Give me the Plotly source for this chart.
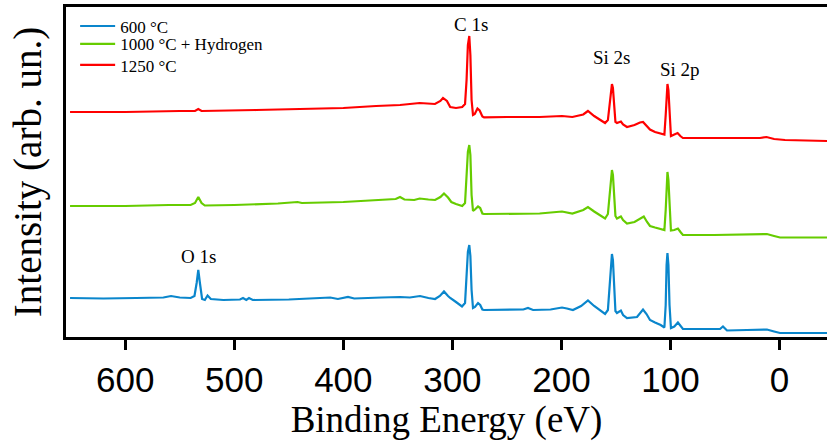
import plotly.graph_objects as go

# XPS survey spectra, stacked with vertical offsets (arbitrary units)
energy_1250 = [650.6, 600.0, 550.0, 536.0, 533.0, 530.0, 480.0, 430.0, 400.0, 370.0,
               348.0, 330.0, 316.0, 311.0, 308.6, 305.0, 302.0, 296.7, 291.0, 288.4,
               287.0, 285.8, 284.5, 283.5, 282.4, 281.1, 279.5, 277.0, 275.0, 272.5,
               271.0, 250.0, 220.0, 199.5, 190.0, 180.0, 175.7, 170.0, 164.7, 160.0,
               157.4, 155.5, 154.4, 153.7, 152.8, 151.8, 150.5, 149.1, 145.5, 143.5,
               139.9, 133.0, 128.0, 125.2, 122.0, 118.8, 114.2, 109.0, 105.6, 104.4,
               103.6, 102.8, 101.9, 100.9, 99.6, 96.5, 93.5, 91.0, 88.6, 60.0,
               30.0, 18.0, 12.0, 5.0, -5.0, -43.5]
intensity_1250 = [22.6, 22.6, 22.7, 22.7, 22.9, 22.7, 22.8, 22.9, 23.0, 23.2,
                  23.3, 23.5, 23.4, 23.7, 24.0, 23.7, 23.1, 23.0, 23.1, 23.4,
                  25.8, 29.3, 30.2, 28.3, 23.8, 22.3, 22.4, 22.95, 22.75, 22.15,
                  22.07, 22.1, 22.1, 22.2, 22.1, 22.35, 22.7, 22.2, 21.8, 21.5,
                  21.8, 23.8, 25.2, 25.4, 25.0, 23.0, 21.6, 21.5, 21.65, 21.35,
                  21.1, 21.3, 21.55, 21.6, 21.2, 20.85, 20.6, 20.45, 20.35, 22.3,
                  24.8, 25.4, 24.8, 22.3, 20.2, 20.35, 20.5, 20.2, 20.0, 20.0,
                  19.95, 20.0, 20.1, 19.9, 19.8, 19.7]

energy_1000h = [650.6, 600.0, 560.0, 540.0, 536.0, 533.0, 530.0, 527.0, 500.0, 460.0,
                442.0, 438.0, 400.0, 370.0, 352.0, 348.0, 344.0, 335.0, 330.0, 322.0,
                315.9, 311.0, 307.7, 304.0, 301.0, 296.7, 291.0, 288.4, 287.0, 285.8,
                284.5, 283.5, 282.4, 281.1, 279.3, 276.5, 274.5, 272.5, 271.0, 250.0,
                220.0, 199.5, 190.0, 180.0, 175.7, 170.0, 164.7, 160.0, 157.4, 155.5,
                154.4, 153.7, 152.8, 151.8, 150.5, 149.1, 145.5, 143.5, 139.9, 133.0,
                128.0, 124.5, 121.5, 118.8, 114.2, 109.0, 105.6, 104.4, 103.6, 102.8,
                101.9, 100.9, 99.6, 96.5, 93.2, 90.5, 88.6, 60.0, 30.0, 18.0,
                11.6, 5.0, -0.4, -43.5]
intensity_1000h = [13.2, 13.2, 13.3, 13.3, 13.5, 14.1, 13.5, 13.25, 13.3, 13.45,
                   13.6, 13.5, 13.6, 13.75, 13.9, 14.1, 13.85, 13.8, 13.95, 13.85,
                   13.8, 14.1, 14.45, 14.05, 13.6, 13.4, 13.2, 13.5, 15.8, 18.6,
                   19.3, 18.3, 14.3, 12.7, 12.85, 13.15, 13.0, 12.45, 12.4, 12.4,
                   12.45, 12.65, 12.45, 12.8, 13.1, 12.65, 12.25, 11.95, 12.4, 14.8,
                   16.5, 16.8, 16.3, 13.8, 12.2, 11.95, 12.15, 11.8, 11.45, 11.6,
                   11.9, 12.15, 11.6, 11.2, 11.05, 10.9, 10.8, 12.8, 15.8, 16.6,
                   15.8, 12.8, 10.75, 10.8, 10.95, 10.55, 10.3, 10.3, 10.35, 10.35,
                   10.4, 10.2, 10.05, 10.05]

energy_600 = [650.6, 620.0, 590.0, 565.0, 558.0, 550.0, 540.0, 536.5, 534.5, 533.0,
              531.5, 529.5, 527.0, 524.5, 521.5, 510.0, 494.8, 492.0, 489.0, 486.5,
              483.0, 450.0, 412.0, 405.0, 395.7, 390.0, 365.0, 348.0, 339.0, 329.7,
              322.0, 315.9, 311.5, 307.7, 304.0, 302.0, 296.7, 291.2, 288.4, 287.0,
              285.8, 284.5, 283.5, 282.4, 281.1, 279.3, 276.5, 274.5, 272.5, 271.0,
              250.0, 235.0, 230.7, 226.0, 210.0, 199.5, 195.0, 189.5, 182.0, 175.7,
              170.0, 164.7, 160.0, 157.4, 155.5, 154.4, 153.7, 152.8, 151.8, 150.5,
              149.1, 145.5, 143.5, 139.9, 130.7, 128.0, 125.2, 122.0, 118.8, 114.2,
              109.0, 105.6, 104.4, 103.6, 102.8, 101.9, 100.9, 99.6, 96.5, 93.2,
              90.5, 88.6, 60.0, 54.6, 51.9, 48.2, 30.0, 18.0, 11.6, 5.0,
              -0.4, -43.5]
intensity_600 = [4.0, 3.95, 4.0, 4.05, 4.2, 4.05, 4.0, 4.2, 5.5, 6.8,
                 5.5, 3.9, 3.8, 4.25, 3.9, 3.8, 3.85, 4.0, 3.8, 4.0,
                 3.8, 3.85, 4.05, 3.9, 4.1, 3.95, 4.05, 4.1, 4.05, 4.2,
                 4.0, 3.9, 4.2, 4.65, 4.2, 4.0, 3.6, 3.15, 3.5, 5.8,
                 8.6, 9.3, 8.2, 4.8, 3.0, 3.1, 3.5, 3.3, 2.85, 2.8,
                 2.8, 2.85, 3.0, 2.8, 2.85, 3.05, 2.95, 2.8, 3.2, 3.75,
                 3.2, 2.8, 2.4, 2.8, 5.8, 8.0, 8.4, 7.8, 4.8, 2.7,
                 2.5, 2.75, 2.3, 2.0, 2.1, 2.45, 2.85, 2.4, 1.8, 1.55,
                 1.3, 1.05, 3.3, 7.3, 8.5, 7.3, 3.3, 1.0, 1.15, 1.55,
                 1.1, 0.9, 0.9, 0.9, 1.15, 0.75, 0.8, 0.8, 0.85, 0.65,
                 0.5, 0.5]

series_names = ["600 °C", "1000 °C + Hydrogen", "1250 °C"]
series_colors = ["#0a86cc", "#66cc00", "#ff0000"]

peak_labels = ["O 1s", "C 1s", "Si 2s", "Si 2p"]
peak_label_x = [532.8, 283.0, 153.7, 91.3]
peak_label_y = [8.2, 31.4, 28.1, 26.9]

tick_values = [600, 500, 400, 300, 200, 100, 0]

serif = "Liberation Serif, Times New Roman, serif"
sans = "Liberation Sans, Arial, sans-serif"

# one legend per series so the rows can sit close together
legend_ids = ["legend", "legend2", "legend3"]
legend_rows = [0.941, 0.887, 0.823]

fig = go.Figure()
for name, color, x, y, lg in zip(series_names, series_colors,
                                 [energy_600, energy_1000h, energy_1250],
                                 [intensity_600, intensity_1000h, intensity_1250],
                                 legend_ids):
    fig.add_trace(go.Scatter(x=x, y=y, mode="lines", name=name, legend=lg,
                             line=dict(color=color, width=2.2)))

for text, x, y in zip(peak_labels, peak_label_x, peak_label_y):
    fig.add_annotation(x=x, y=y, text=text, showarrow=False,
                       font=dict(family=serif, size=19, color="black"))

legend_style = dict(x=0.012, xanchor="left", yanchor="middle",
                    font=dict(family=serif, size=17, color="black"),
                    bgcolor="rgba(0,0,0,0)", itemwidth=35,
                    borderwidth=0)

fig.update_layout(
    width=827, height=445,
    margin=dict(l=66, r=0, t=7, b=108),
    paper_bgcolor="white", plot_bgcolor="white",
    showlegend=True,
    legend=dict(y=legend_rows[0], **legend_style),
    legend2=dict(y=legend_rows[1], **legend_style),
    legend3=dict(y=legend_rows[2], **legend_style),
    xaxis=dict(range=[654.3, -43.5], tickvals=tick_values,
               ticks="outside", ticklen=10, tickwidth=2.5, tickcolor="black",
               showline=True, linecolor="black", linewidth=2.5, mirror=True,
               showgrid=False, zeroline=False,
               tickfont=dict(family=sans, size=35, color="black"),
               title=dict(text="Binding Energy (eV)",
                          font=dict(family=serif, size=37, color="black"),
                          standoff=2)),
    yaxis=dict(range=[0.1, 33.1], showticklabels=False, ticks="",
               showline=True, linecolor="black", linewidth=2.5,
               showgrid=False, zeroline=False,
               title=dict(text="Intensity (arb. un.)",
                          font=dict(family=serif, size=39, color="black"),
                          standoff=10)),
)

fig.write_html("out.html")
